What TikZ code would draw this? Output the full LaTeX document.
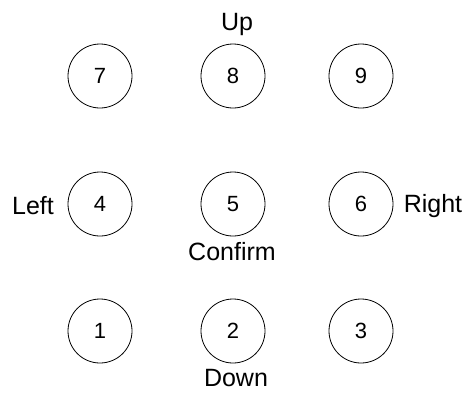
\documentclass[tikz,border=0pt]{standalone}
\usepackage{fontspec}
\setmainfont{Liberation Sans}
\tikzset{
  key/.style={draw, circle, thick, minimum size=64pt, inner sep=0pt, font=\fontsize{22}{26}\selectfont},
  dirlabel/.style={font=\fontsize{25}{30}\selectfont, inner sep=0pt}
}
\begin{document}
\begin{tikzpicture}[x=1pt, y=-1pt]
  \useasboundingbox (0,0) rectangle (468,392);
  \node[key] (key7) at (100,76) {7};
  \node[key] (key8) at (233,76) {8};
  \node[key] (key9) at (361,76) {9};
  \node[key] (key4) at (100,204) {4};
  \node[key] (key5) at (233,204) {5};
  \node[key] (key6) at (361,204) {6};
  \node[key] (key1) at (100,331) {1};
  \node[key] (key2) at (233,331) {2};
  \node[key] (key3) at (361,331) {3};
  \node[dirlabel] (up) at (237,24) {Up};
  \node[dirlabel] (left) at (33,206) {Left};
  \node[dirlabel] (right) at (433,206) {Right};
  \node[dirlabel] (confirm) at (232,252) {Confirm};
  \node[dirlabel] (down) at (236,378) {Down};
\end{tikzpicture}
\end{document}
